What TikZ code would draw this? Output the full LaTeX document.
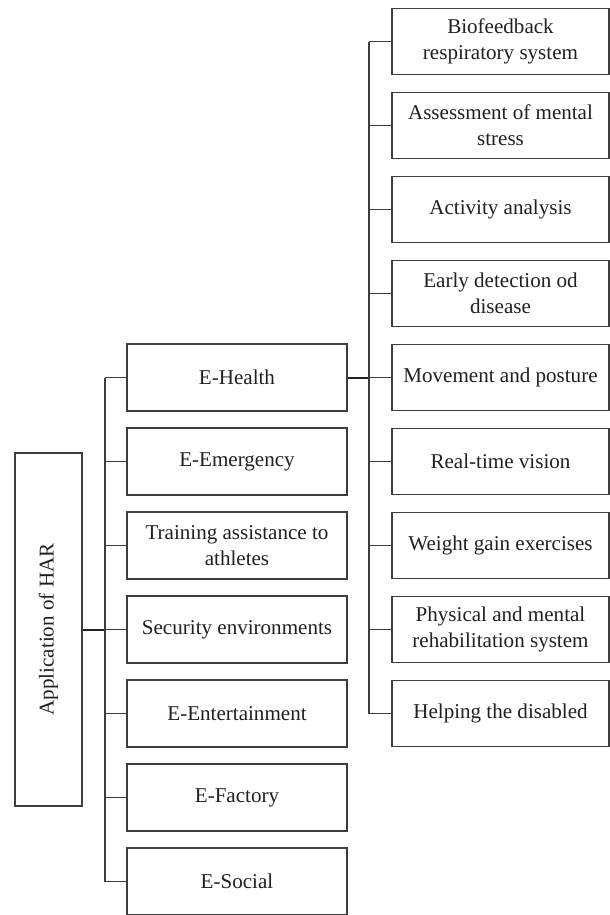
\documentclass[tikz,border=0pt]{standalone}
\usepackage{fontspec}
\setmainfont{Liberation Serif}
\usetikzlibrary{positioning}
\definecolor{inkgray}{RGB}{35,31,32}
\definecolor{boxline}{RGB}{62,62,62}

\begin{document}
\begin{tikzpicture}[x=0.75pt, y=-0.75pt,
    every node/.style={font=\fontsize{15.8}{19.5}\selectfont, text=inkgray},
    midbox/.style={draw=boxline, line width=0.9pt, align=center,
                   minimum width=165pt, minimum height=50.25pt, inner sep=2pt},
    subbox/.style={draw=boxline, line width=0.9pt, align=center,
                   minimum width=162.75pt, minimum height=49.5pt, inner sep=2pt},
    rootbox/.style={draw=boxline, line width=0.9pt, rotate=90,
                    minimum width=264.75pt, minimum height=50.25pt},
    link/.style={draw=boxline, line width=0.75pt},
    trunk/.style={draw=inkgray, line width=1.5pt}]
  \useasboundingbox (0,0) rectangle (610,915);

  % root
  \node[rootbox] (root) at (48.5,629.5) {Application of HAR};

  % application areas
  \foreach \txt [count=\i from 0] in {E-Health, E-Emergency,
      Training assistance to\\athletes, Security environments,
      E-Entertainment, E-Factory, E-Social}
    \node[midbox] (m\i) at (237,377.5+84*\i) {\txt};

  % e-health sub-areas
  \foreach \txt [count=\i from 0] in {Biofeedback\\respiratory system,
      Assessment of mental\\stress, Activity analysis,
      Early detection od\\disease, Movement and posture, Real-time vision,
      Weight gain exercises, Physical and mental\\rehabilitation system,
      Helping the disabled}
    \node[subbox] (s\i) at (500.5,41.5+84*\i) {\txt};

  % left bus
  \coordinate (lbus) at (105,629.5);
  \draw[trunk] (root.south) -- (lbus);
  \draw[link, line width=1pt] (lbus |- m0.west) -- (lbus |- m6.west);
  \foreach \i in {0,...,6}
    \draw[link] (m\i.west) -- (lbus |- m\i.west);

  % right bus
  \coordinate (rbus) at (369,377.5);
  \draw[trunk] (m0.east) -- (rbus);
  \draw[link, line width=1pt] (rbus |- s0.west) -- (rbus |- s8.west);
  \foreach \i in {0,...,8}
    \draw[link] (s\i.west) -- (rbus |- s\i.west);
\end{tikzpicture}
\end{document}
